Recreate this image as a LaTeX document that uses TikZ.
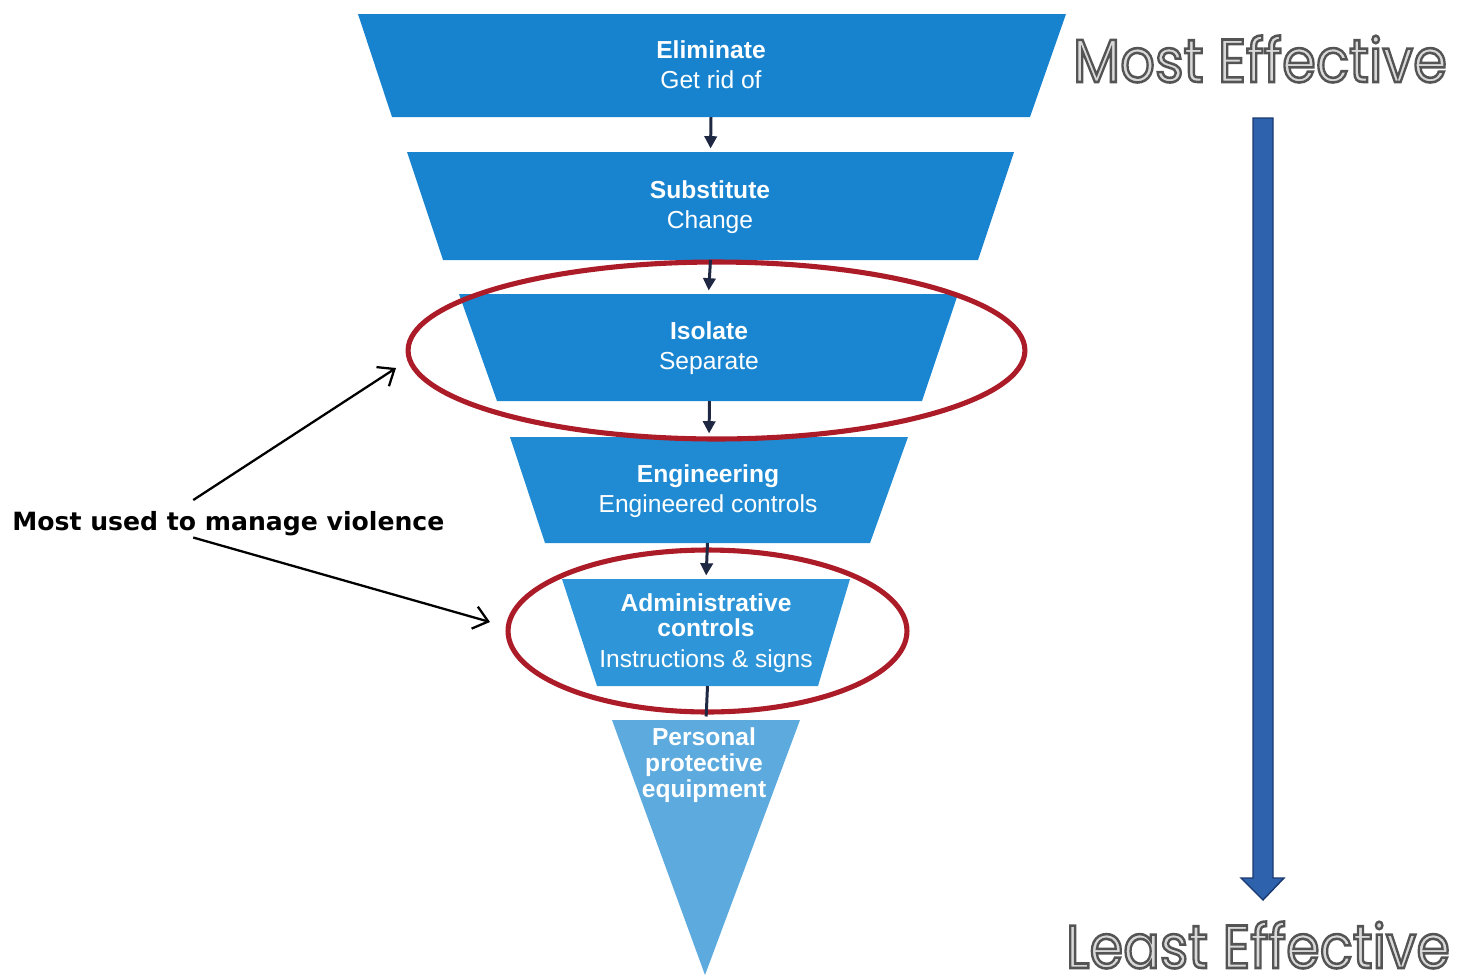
\documentclass[tikz,border=0pt]{standalone}
\usepackage{fontspec}
\setmainfont{Liberation Sans}
\newfontfamily\notefont{DejaVu Sans}
\newfontfamily\effont{Poppins}
\usetikzlibrary{arrows.meta}

\definecolor{lay1}{RGB}{23,131,207}
\definecolor{lay2}{RGB}{24,132,208}
\definecolor{lay3}{RGB}{26,134,209}
\definecolor{lay4}{RGB}{32,139,211}
\definecolor{lay5}{RGB}{46,150,216}
\definecolor{lay6}{RGB}{92,170,222}
\definecolor{ringred}{RGB}{172,28,40}
\definecolor{linknavy}{RGB}{30,40,66}
\definecolor{bigblue}{RGB}{47,98,173}
\definecolor{bigedge}{RGB}{26,56,112}

\tikzset{
  laytext/.style={text=white, align=center, inner sep=0pt, font=\fontsize{14pt}{17pt}\selectfont},
  link/.style={draw=linknavy, line width=1.7pt, shorten >=2pt, -{Triangle[length=7pt,width=7pt]}},
  ring/.style={draw=ringred, line width=2.9pt},
  note/.style={inner sep=0pt, font=\notefont\bfseries\fontsize{14.3pt}{17pt}\selectfont},
  notearrow/.style={draw=black, line width=1.3pt, -{Straight Barb[length=8pt,width=13pt]}},
  metal/.style={inner sep=0pt, text=gray!30}
}

% grey lettering with a darker rim (fill and stroke text rendering)
\newcommand\metaltext[2]{%
  \resizebox{#1}{0.93cm}{\effont
    \special{pdf:literal direct 2 Tr 0.42 w 0.33 G}#2\special{pdf:literal direct 0 Tr}}}

\begin{document}
\begin{tikzpicture}[x=0.02cm, y=-0.02cm]
    \useasboundingbox (0,0) rectangle (1468,978);

    % the five trapezoid layers
    \foreach \n/\ty/\by/\tl/\tr/\bl/\br in {1/14/117/358/1066/392/1030, 2/152/260/407/1014/443/978,
        3/294/401/459/958/497/922, 4/437/543/510/908/545/870, 5/579/686/562/850/597/818}
    {
        \fill[lay\n] (\tl,\ty) -- (\tr,\ty) -- (\br,\by) -- (\bl,\by) -- cycle;
        \coordinate (top\n) at ({(\tl+\tr)/2},\ty);
        \coordinate (bot\n) at ({(\bl+\br)/2},\by);
    }
    % tip of the funnel
    \fill[lay6] (612,720) -- (800,720) -- (705,975) -- cycle;
    \coordinate (top6) at (706,720);

    \node[laytext] (elim) at (711,65) {\textbf{Eliminate}\\Get rid of};
    \node[laytext] (subst) at (710,207) {\textbf{Substitute}\\Change};
    \node[laytext] (iso) at (709,348) {\textbf{Isolate}\\Separate};
    \node[laytext] (eng) at (708,491) {\textbf{Engineering}\\Engineered controls};
    \node[laytext, font=\fontsize{14pt}{14.5pt}\selectfont] (admin) at (706,633)
        {\textbf{Administrative}\\\textbf{controls}\\[2.8pt]Instructions \& signs};
    \node[laytext, font=\bfseries\fontsize{14pt}{15pt}\selectfont] (ppe) at (704,765)
        {Personal\\protective\\equipment};

    % rings round the two controls
    \draw[ring] (716.5,350.5) ellipse [x radius=6.17cm, y radius=1.77cm];
    \draw[ring] (707.5,631) ellipse [x radius=3.99cm, y radius=1.62cm];

    % steps down the funnel
    \foreach \a/\b in {1/2,2/3,3/4,4/5}
        \draw[link] (bot\a) -- (top\b);
    \draw[link, -] (bot5) -- (top6);

    % annotation
    \node[note, anchor=base west] (used) at (12,530) {Most used to manage violence};
    \coordinate (hitA) at (396,368);
    \coordinate (hitB) at (490,622);
    \draw[notearrow] ([xshift=-20pt,yshift=6pt]used.north) -- (hitA);
    \draw[notearrow] ([xshift=-20pt,yshift=-1pt]used.south) -- (hitB);

    % effectiveness scale
    \filldraw[fill=bigblue, draw=bigedge, line width=0.8pt]
        (1253,118) -- (1273,118) -- (1273,878) -- (1284,878) -- (1263,900)
        -- (1241,878) -- (1253,878) -- cycle;
    \node[metal] (most) at (1260,59) {\metaltext{7.48cm}{Most Effective}};
    \node[metal] (least) at (1258,945) {\metaltext{7.68cm}{Least Effective}};
\end{tikzpicture}
\end{document}
